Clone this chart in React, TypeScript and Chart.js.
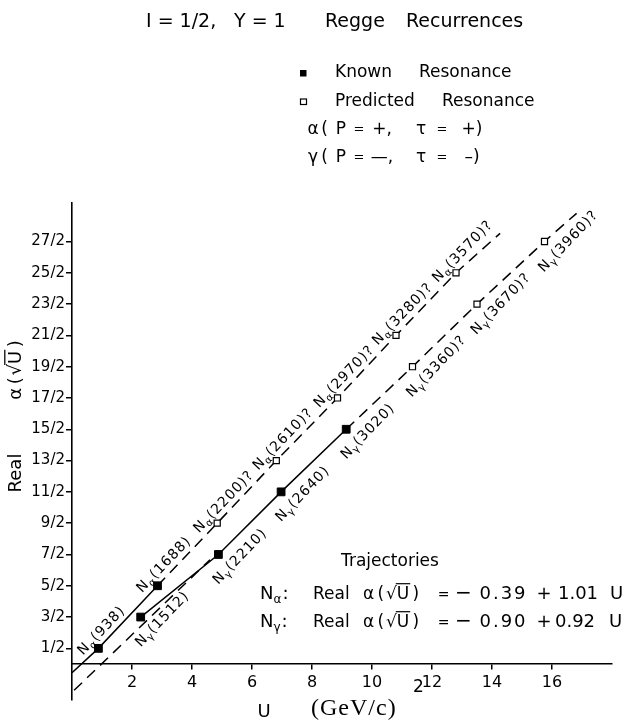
import React, { useEffect, useRef } from 'react';
import { Chart, registerables } from 'chart.js';

Chart.register(...registerables);

const FONT = '"DejaVu Sans", sans-serif';
const SERIF = '"Liberation Serif", "DejaVu Serif", serif';

// ---- data: resonances (U = mass^2 in GeV^2, J = spin) ----
const alphaKnownMass = [938, 1688];
const alphaKnownU = [0.88, 2.85];
const alphaKnownJ = [0.5, 2.5];
const alphaPredMass = [2200, 2610, 2970, 3280, 3570];
const alphaPredU = [4.84, 6.81, 8.85, 10.8, 12.8];
const alphaPredJ = [4.5, 6.5, 8.5, 10.5, 12.5];

const gammaKnownMass = [1512, 2210, 2640, 3020];
const gammaKnownU = [2.29, 4.88, 6.97, 9.14];
const gammaKnownJ = [1.5, 3.5, 5.5, 7.5];
const gammaPredMass = [3360, 3670, 3960];
const gammaPredU = [11.35, 13.5, 15.75];
const gammaPredJ = [9.5, 11.5, 13.5];

// ---- drawn trajectory lines ----
const alphaSolidU = [0.0, 0.88, 2.85];
const alphaSolidJ = [-0.28, 0.5, 2.5];
const alphaDashU = [2.85, 4.84, 6.81, 8.85, 10.8, 12.8, 14.27];
const alphaDashJ = [2.5, 4.5, 6.5, 8.5, 10.5, 12.5, 13.76];
const gammaFitU = [0.07, 4.6];
const gammaFitJ = [-0.84, 3.33];
const gammaSolidU = [2.29, 4.88, 6.97, 9.14];
const gammaSolidJ = [1.5, 3.5, 5.5, 7.5];
const gammaDashU = [9.14, 11.35, 13.5, 15.75, 16.82];
const gammaDashJ = [7.5, 9.5, 11.5, 13.5, 14.4];

// ---- axes ----
const xTickValues = [2, 4, 6, 8, 10, 12, 14, 16];
const yTickValues = [0.5, 1.5, 2.5, 3.5, 4.5, 5.5, 6.5, 7.5, 8.5, 9.5, 10.5, 11.5, 12.5, 13.5];
const yTickLabels = ['1/2', '3/2', '5/2', '7/2', '9/2', '11/2', '13/2', '15/2', '17/2', '19/2', '21/2', '23/2', '25/2', '27/2'];

// ---- text ----
const titleParts = ['I = 1/2,', 'Y = 1', 'Regge', 'Recurrences'];
const legendKnown = ['Known', 'Resonance'];
const legendPred = ['Predicted', 'Resonance'];
const legendAlpha = ['α', '(', 'P', '=', '+,', 'τ', '=', '+)'];
const legendGamma = ['γ', '(', 'P', '=', '—,', 'τ', '=', '–)'];
const trajTitle = 'Trajectories';
const trajAlpha = ['=', '−', '0.39', '+', '1.01', 'U'];
const trajGamma = ['=', '−', '0.90', '+', '0.92', 'U'];

const pts = (u: number[], j: number[]) => u.map((v, i) => ({ x: v, y: j[i] }));

function drawAlphaSqrt(ctx: any, x: number, y: number, size: number) {
  ctx.font = `${size}px ${FONT}`;
  ctx.textAlign = 'left';
  ctx.textBaseline = 'alphabetic';
  let cx = x;
  const put = (s: string) => {
    ctx.fillText(s, cx, y);
    cx += ctx.measureText(s).width;
  };
  put('α');
  cx += size * 0.2;
  put('(');
  cx += size * 0.1;
  put('√');
  const ux = cx;
  put('U');
  const ue = cx;
  ctx.lineWidth = Math.max(1, size * 0.07);
  ctx.beginPath();
  ctx.moveTo(ux - 1, y - size * 0.9);
  ctx.lineTo(ue + 1, y - size * 0.9);
  ctx.stroke();
  cx += size * 0.2;
  put(')');
  return cx - x;
}

function measureAlphaSqrt(ctx: any, size: number) {
  ctx.font = `${size}px ${FONT}`;
  const m = (s: string) => ctx.measureText(s).width;
  return m('α') + size * 0.2 + m('(') + size * 0.1 + m('√') + m('U') + size * 0.2 + m(')');
}

function drawNLabel(ctx: any, px: number, py: number, ang: number, sub: string, txt: string, start: number, base: number, size: number) {
  ctx.save();
  ctx.translate(px, py);
  ctx.rotate(ang);
  ctx.textAlign = 'left';
  ctx.textBaseline = 'alphabetic';
  try { ctx.letterSpacing = '1px'; } catch (e) {}
  let cx = start;
  ctx.font = `${size}px ${FONT}`;
  ctx.fillText('N', cx, base);
  cx += ctx.measureText('N').width;
  ctx.font = `${Math.round(size * 0.72)}px ${FONT}`;
  ctx.fillText(sub, cx, base + size * 0.22);
  cx += ctx.measureText(sub).width;
  ctx.font = `${size}px ${FONT}`;
  ctx.fillText(txt, cx, base);
  ctx.restore();
}

const annotate = {
  id: 'annotate',
  afterDraw(chart: any) {
    const ctx = chart.ctx;
    const xs = chart.scales.x;
    const ys = chart.scales.y;
    ctx.save();
    ctx.fillStyle = '#000';
    ctx.strokeStyle = '#000';

    // title
    ctx.textBaseline = 'middle';
    ctx.textAlign = 'left';
    ctx.font = `19px ${FONT}`;
    const titleX = [146, 234, 325, 406];
    titleParts.forEach((s, i) => ctx.fillText(s, titleX[i], 22));

    // legend
    ctx.font = `17px ${FONT}`;
    ctx.fillRect(300, 70, 6.5, 6.5);
    ctx.lineWidth = 1.2;
    ctx.strokeRect(300.5, 99, 6, 5.5);
    ctx.fillText(legendKnown[0], 335, 73);
    ctx.fillText(legendKnown[1], 419, 73);
    ctx.fillText(legendPred[0], 335, 102);
    ctx.fillText(legendPred[1], 442, 102);
    const legC = [313, 324.5, 341, 359, 382, 421, 442, 472];
    ctx.textAlign = 'center';
    const legRow = (parts: string[], y: number) => {
      parts.forEach((s, i) => {
        ctx.font = s === '=' ? `13px ${FONT}` : `17px ${FONT}`;
        ctx.fillText(s, legC[i], y);
      });
    };
    legRow(legendAlpha, 130);
    legRow(legendGamma, 158);
    ctx.textAlign = 'left';

    // trajectories block
    ctx.font = `17px ${FONT}`;
    ctx.fillText(trajTitle, 341, 562);
    const rows: [string, string[], number[], number][] = [
      ['α', trajAlpha, [443.5, 463.5, 503.5, 544, 578, 616.5], 599],
      ['γ', trajGamma, [443.5, 463.5, 503.5, 544, 575, 615.5], 627],
    ];
    rows.forEach(([sub, parts, cPos, base]) => {
      ctx.textAlign = 'left';
      ctx.textBaseline = 'alphabetic';
      ctx.font = `18px ${FONT}`;
      ctx.fillText('N', 260, base);
      const nw = ctx.measureText('N').width;
      ctx.font = `12px ${FONT}`;
      ctx.fillText(sub, 260 + nw, base + 4);
      const sw = ctx.measureText(sub).width;
      ctx.font = `18px ${FONT}`;
      ctx.fillText(':', 260 + nw + sw + 1, base);
      ctx.font = `17px ${FONT}`;
      ctx.fillText('Real', 313, base);
      drawAlphaSqrt(ctx, 363, base, 17);
      ctx.textAlign = 'center';
      parts.forEach((s, i) => {
        if (s === '=') ctx.font = `14px ${FONT}`;
        else if (s === '−') ctx.font = `20px ${FONT}`;
        else ctx.font = `18px ${FONT}`;
        try { ctx.letterSpacing = i === 2 ? '2px' : '0px'; } catch (e) {}
        ctx.fillText(s, cPos[i], base);
      });
      try { ctx.letterSpacing = '0px'; } catch (e) {}
      ctx.textAlign = 'left';
    });

    // y-axis title (vertical)
    ctx.save();
    ctx.translate(21, 473);
    ctx.rotate(-Math.PI / 2);
    ctx.font = `18px ${FONT}`;
    ctx.textAlign = 'center';
    ctx.textBaseline = 'alphabetic';
    ctx.fillText('Real', 0, 0);
    ctx.restore();
    ctx.save();
    ctx.translate(21, 370);
    ctx.rotate(-Math.PI / 2);
    const aw = measureAlphaSqrt(ctx, 18);
    drawAlphaSqrt(ctx, -aw / 2, 0, 18);
    ctx.restore();

    // x-axis title
    ctx.textBaseline = 'middle';
    ctx.textAlign = 'center';
    ctx.font = `18px ${FONT}`;
    ctx.fillText('U', 264, 712);
    ctx.textAlign = 'left';
    ctx.font = `24px ${SERIF}`;
    try { ctx.letterSpacing = '1px'; } catch (e) {}
    ctx.fillText('(GeV/c)', 311, 709);
    try { ctx.letterSpacing = '0px'; } catch (e) {}
    ctx.font = `17px ${FONT}`;
    ctx.fillText('2', 413, 688);

    // point labels along the trajectories
    const ang = Math.atan2(ys.getPixelForValue(1) - ys.getPixelForValue(0), xs.getPixelForValue(1) - xs.getPixelForValue(0));
    const lab = (u: number[], j: number[], m: number[], q: string, sub: string, start: number, base: number) => {
      u.forEach((v, i) => {
        drawNLabel(ctx, xs.getPixelForValue(v), ys.getPixelForValue(j[i]), ang, sub, `(${m[i]})${q}`, start, base, 14);
      });
    };
    lab(alphaKnownU, alphaKnownJ, alphaKnownMass, '', 'α', -16, -6);
    lab(alphaPredU, alphaPredJ, alphaPredMass, '?', 'α', -20, -6);
    lab(gammaKnownU, gammaKnownJ, gammaKnownMass, '', 'γ', -22, 21);
    lab(gammaPredU, gammaPredJ, gammaPredMass, '?', 'γ', -23, 21);

    ctx.restore();
  },
};

export default function App() {
  const ref = useRef<HTMLCanvasElement>(null);
  useEffect(() => {
    const lineDs = (u: number[], j: number[], dash: number[]) => ({
      type: 'scatter' as const,
      data: pts(u, j),
      showLine: true,
      borderColor: '#000',
      borderWidth: 1.5,
      borderDash: dash,
      pointRadius: 0,
      fill: false,
    });
    const chart = new Chart(ref.current as HTMLCanvasElement, {
      type: 'scatter',
      data: {
        datasets: [
          {
            data: [...pts(alphaKnownU, alphaKnownJ), ...pts(gammaKnownU, gammaKnownJ)],
            pointStyle: 'rect',
            pointRadius: 5.5,
            backgroundColor: '#000',
            borderColor: '#000',
            borderWidth: 1,
          },
          {
            data: [...pts(alphaPredU, alphaPredJ), ...pts(gammaPredU, gammaPredJ)],
            pointStyle: 'rect',
            pointRadius: 4.3,
            backgroundColor: '#fff',
            borderColor: '#000',
            borderWidth: 1.2,
          },
          lineDs(alphaSolidU, alphaSolidJ, []),
          lineDs(alphaDashU, alphaDashJ, [11, 7]),
          lineDs(gammaFitU, gammaFitJ, [11, 7]),
          lineDs(gammaSolidU, gammaSolidJ, []),
          lineDs(gammaDashU, gammaDashJ, [11, 7]),
        ] as any,
      },
      options: {
        animation: false,
        responsive: false,
        maintainAspectRatio: false,
        layout: { padding: { left: 12, top: 203, right: 19, bottom: 21 } },
        plugins: {
          legend: { display: false },
          tooltip: { enabled: false },
          title: { display: false },
        },
        scales: {
          x: {
            type: 'linear',
            min: 0,
            max: 18,
            position: { y: 0 } as any,
            afterBuildTicks: (s: any) => {
              s.ticks = xTickValues.map((v) => ({ value: v }));
            },
            afterFit: (s: any) => {
              s.height = 0;
            },
            grid: { display: true, drawOnChartArea: false, drawTicks: true, tickLength: 5, color: '#000', lineWidth: 1.5 },
            border: { display: true, color: '#000', width: 1.6 },
            ticks: {
              color: '#000',
              font: { family: 'DejaVu Sans', size: 16 },
              padding: 4,
              maxRotation: 0,
              autoSkip: false,
            },
          },
          y: {
            type: 'linear',
            min: -1.15,
            max: 14.73,
            position: 'left',
            afterBuildTicks: (s: any) => {
              s.ticks = yTickValues.map((v) => ({ value: v }));
            },
            afterFit: (s: any) => {
              s.width = 60;
            },
            grid: { display: true, drawOnChartArea: false, drawTicks: true, tickLength: 6, color: '#000', lineWidth: 1.5 },
            border: { display: true, color: '#000', width: 1.6 },
            ticks: {
              color: '#000',
              font: { family: 'DejaVu Sans', size: 15 },
              padding: 1,
              autoSkip: false,
              callback: (_v: any, i: number) => yTickLabels[i],
            },
          },
        },
      },
      plugins: [annotate],
    });
    return () => chart.destroy();
  }, []);
  return (
    <div style={{ position: 'absolute', left: 0, top: 0, width: 631, height: 721, background: '#fff' }}>
      <canvas ref={ref} width={631} height={721} style={{ display: 'block', width: 631, height: 721 }} />
    </div>
  );
}
